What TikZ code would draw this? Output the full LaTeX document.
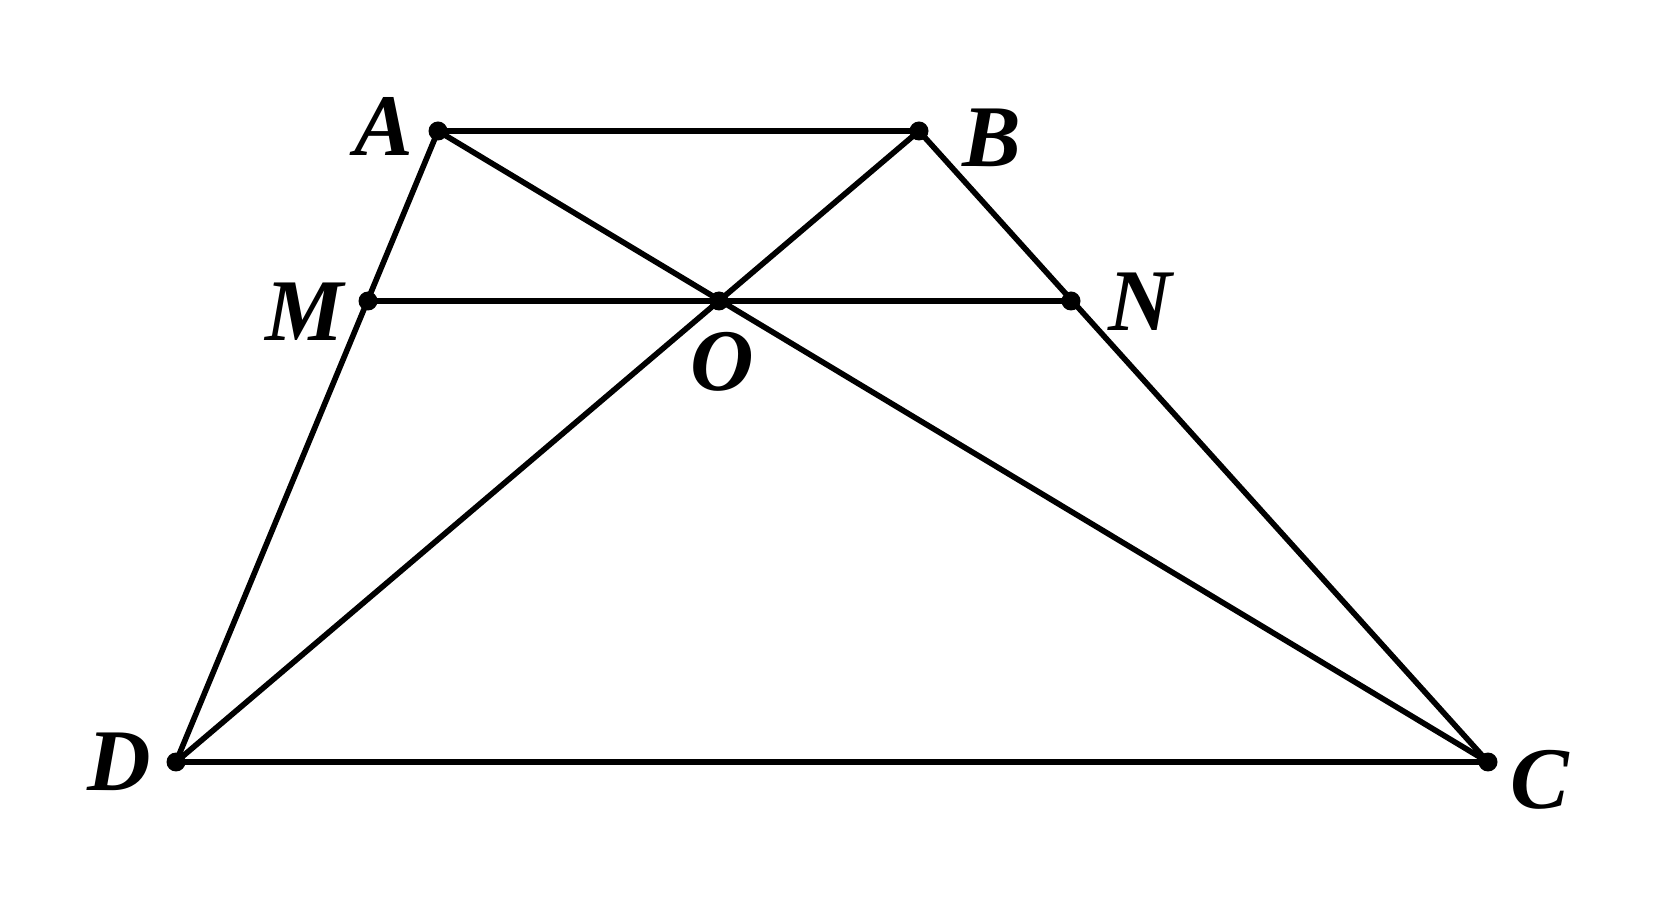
\documentclass[tikz,border=0pt]{standalone}
\usepackage{fontspec}
\setmainfont{Liberation Serif}
\begin{document}
\begin{tikzpicture}[x={(0.01cm,0)},y={(0,-0.01cm)},
  seg/.style={line width=1.6pt,line cap=round,line join=round},
  dot/.style={circle,fill=black,inner sep=0pt,minimum size=5.4pt},
  lab/.style={inner sep=0pt,font=\fontsize{25}{29}\selectfont\bfseries\itshape}]
\useasboundingbox (0,0) rectangle (1663,907);
\coordinate (A) at (438,131);
\coordinate (B) at (919,131);
\coordinate (M) at (368,301);
\coordinate (N) at (1071,301);
\coordinate (O) at (719,301);
\coordinate (D) at (176,762);
\coordinate (C) at (1488,762);
\draw[seg] (A) -- (B) -- (C) -- (D) -- cycle;
\draw[seg] (A) -- (C);
\draw[seg] (B) -- (D);
\draw[seg] (M) -- (N);
\foreach \p in {A,B,C,D,M,N,O} \node[dot] (d\p) at (\p) {};
\node[lab] (lA) at (384,126) {A};
\node[lab] (lB) at (992,138) {B};
\node[lab] (lM) at (305,312) {M};
\node[lab] (lN) at (1140,302) {N};
\node[lab] (lO) at (722,362) {O};
\node[lab] (lD) at (119,762) {D};
\node[lab] (lC) at (1540,780) {C};
\end{tikzpicture}
\end{document}
